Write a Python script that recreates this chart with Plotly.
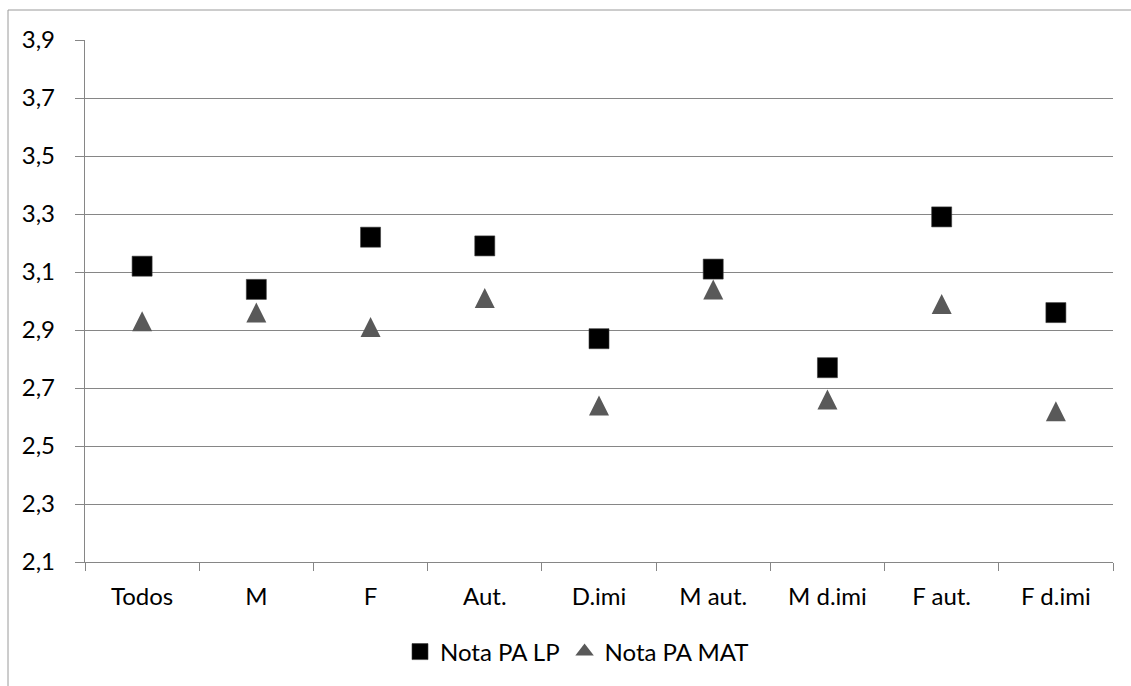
import plotly.graph_objects as go

# Categories and mean scores
categorias = ["Todos", "M", "F", "Aut.", "D.imi", "M aut.", "M d.imi", "F aut.", "F d.imi"]
nota_lp = [3.12, 3.04, 3.22, 3.19, 2.87, 3.11, 2.77, 3.29, 2.96]
nota_mat = [2.93, 2.96, 2.91, 3.01, 2.64, 3.04, 2.66, 2.99, 2.62]
y_ticks = [2.1, 2.3, 2.5, 2.7, 2.9, 3.1, 3.3, 3.5, 3.7, 3.9]

W, H = 1131, 686
ML, MR, MT, MB = 85, 18, 40, 124
PW, PH = W - ML - MR, H - MT - MB

GRID = "#868686"
FONT = "Lato"
FS = 24
MAT_COLOR = "#595959"


def px_x(p):
    return (p - ML) / PW


def px_y(p):
    return (H - MB - p) / PH


fig = go.Figure()

fig.add_trace(go.Scatter(
    x=categorias, y=nota_lp, mode="markers", name="Nota PA LP",
    marker=dict(symbol="square", size=20, color="#000000",
                line=dict(color="#3a3a3a", width=0.6)),
))

# Upward triangle centred on its value: arrow rotated and pushed back by half its height
fig.add_trace(go.Scatter(
    x=categorias, y=nota_mat, mode="markers", name="Nota PA MAT",
    legendgroup="mat", showlegend=False,
    marker=dict(symbol="arrow-down", size=20, color=MAT_COLOR, angle=180, standoff=10,
                line=dict(width=0)),
))
# Legend entry for the triangle series
fig.add_trace(go.Scatter(
    x=[None], y=[None], mode="markers", name="Nota PA MAT",
    legendgroup="mat", showlegend=True,
    marker=dict(symbol="triangle-up", size=18, color=MAT_COLOR, line=dict(width=0)),
))

fig.update_layout(
    width=W, height=H,
    margin=dict(l=ML, r=MR, t=MT, b=MB, pad=0),
    paper_bgcolor="white", plot_bgcolor="white",
    separators=", ",
    font=dict(family=FONT, size=FS, color="#000000"),
    showlegend=True,
    legend=dict(orientation="h", x=px_x(577), y=px_y(652), xanchor="center", yanchor="middle",
                font=dict(family=FONT, size=FS, color="#000000"),
                itemwidth=30, bgcolor="rgba(0,0,0,0)", tracegroupgap=0),
    shapes=[dict(type="rect", xref="paper", yref="paper",
                 x0=px_x(8), x1=px_x(W + 20), y0=px_y(H + 20), y1=px_y(10),
                 line=dict(color="#9a9a9a", width=1), fillcolor="rgba(0,0,0,0)", layer="below")],
)

fig.update_xaxes(
    type="category", range=[-0.5, len(categorias) - 0.5],
    showgrid=False, showline=True, linecolor=GRID, linewidth=1.3,
    ticks="outside", tickson="boundaries", ticklen=8, tickcolor=GRID, tickwidth=1.3,
    tickfont=dict(family=FONT, size=FS, color="#000000"), ticklabelstandoff=13,
    zeroline=False,
)
fig.update_yaxes(
    range=[2.1, 3.9], tickmode="array", tickvals=y_ticks, tickformat=".1f",
    showgrid=True, gridcolor=GRID, gridwidth=1.3,
    showline=True, linecolor=GRID, linewidth=1.3,
    ticks="outside", ticklen=9, tickcolor=GRID, tickwidth=1.3,
    tickfont=dict(family=FONT, size=FS, color="#000000"), ticklabelstandoff=15,
    zeroline=False,
)

fig.write_html("out.html")
